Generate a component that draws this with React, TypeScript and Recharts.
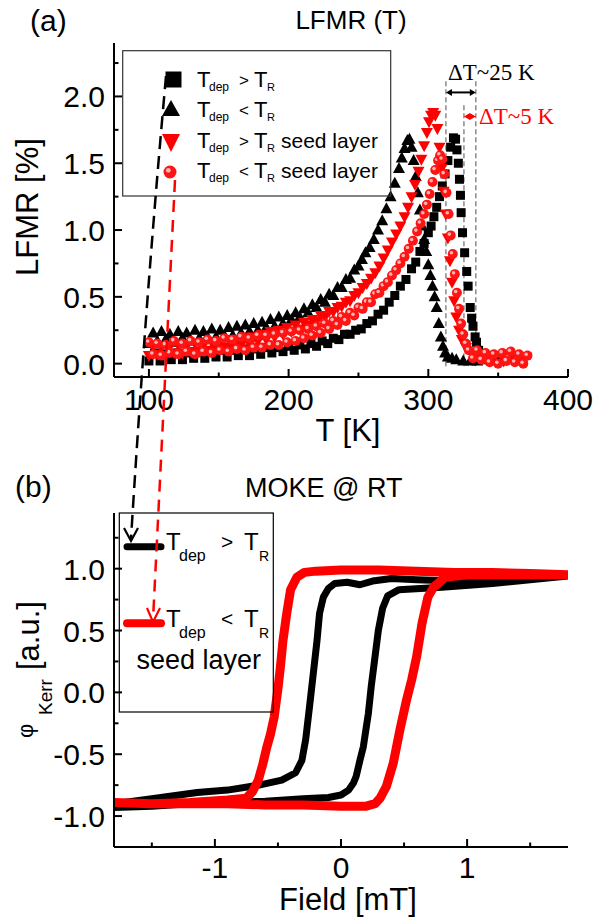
import React from "react";
import { ComposedChart, Scatter, Line, XAxis, YAxis, ReferenceLine } from "recharts";

const FONT = "'Liberation Sans', Arial, Helvetica, sans-serif";
const SERIF = "'Liberation Serif', 'Times New Roman', serif";
const RED = "#ff0000";

// ---------- panel (a): LFMR(T), [T in K, LFMR in %] ----------
const blackSquares: [number, number][] = [
  [100, 0.02], [104, 0.08], [108, 0.02], [112, 0.07], [116, 0.03], [120, 0.08], [124, 0.03], [128, 0.08],
  [132, 0.04], [136, 0.09], [140, 0.04], [144, 0.09], [148, 0.05], [152, 0.1], [156, 0.05], [160, 0.1],
  [164, 0.06], [168, 0.11], [172, 0.06], [176, 0.11], [180, 0.07], [184, 0.12], [188, 0.08], [192, 0.12],
  [196, 0.09], [200, 0.13], [204, 0.1], [208, 0.14], [212, 0.11], [216, 0.15], [220, 0.13], [224, 0.17],
  [228, 0.15], [232, 0.19], [236, 0.18], [240, 0.22], [244, 0.22], [248, 0.25], [252, 0.26], [256, 0.3],
  [260, 0.32], [264, 0.37], [268, 0.4], [272, 0.46], [276, 0.51], [280, 0.58], [284, 0.63], [288, 0.71],
  [291, 0.76], [294, 0.84], [297, 0.9], [300, 0.98], [302, 1.03], [304, 1.1], [306, 1.17], [308, 1.25],
  [310, 1.33], [312, 1.42], [314, 1.52], [316, 1.62], [318, 1.69], [319.5, 1.68], [320.5, 1.6], [321.5, 1.5],
  [322.3, 1.38], [323, 1.26], [323.5, 1.13], [324.5, 0.98], [326, 0.83], [327.5, 0.69], [328.5, 0.58],
  [330, 0.42], [331, 0.34], [332, 0.28], [333.5, 0.2], [334.5, 0.16], [336, 0.1], [338, 0.06], [341, 0.04],
  [345, 0.03], [350, 0.02],
];

const blackTriangles: [number, number][] = [
  [100, 0.15], [103, 0.23], [106, 0.17], [109, 0.24], [112, 0.18], [115, 0.22], [118, 0.16], [121, 0.24],
  [124, 0.19], [127, 0.23], [130, 0.17], [133, 0.25], [136, 0.19], [139, 0.24], [142, 0.2], [145, 0.26],
  [148, 0.2], [151, 0.25], [154, 0.21], [157, 0.27], [160, 0.21], [163, 0.28], [166, 0.23], [169, 0.29],
  [172, 0.24], [175, 0.3], [178, 0.25], [181, 0.31], [184, 0.27], [187, 0.33], [190, 0.28], [193, 0.35],
  [196, 0.3], [199, 0.36], [202, 0.33], [205, 0.38], [208, 0.35], [211, 0.41], [214, 0.38], [217, 0.44],
  [220, 0.42], [223, 0.48], [226, 0.46], [229, 0.52], [232, 0.51], [235, 0.57], [238, 0.57], [241, 0.63],
  [244, 0.64], [247, 0.7], [250, 0.73], [252.5, 0.78], [255, 0.83], [258, 0.87], [261, 0.93], [264, 1.0],
  [267, 1.07], [270, 1.16], [273, 1.25], [276, 1.35], [279, 1.46], [281, 1.54], [283, 1.61], [285, 1.67],
  [286.5, 1.68], [288, 1.62], [289.5, 1.52], [291, 1.4], [292.5, 1.28], [294, 1.15], [295.5, 1.03],
  [297, 0.93], [298.5, 0.84], [300, 0.74], [301.5, 0.66], [303, 0.58], [304.5, 0.5], [306, 0.42],
  [307.5, 0.3], [309, 0.2], [310.5, 0.13], [312, 0.08], [314, 0.05], [317, 0.04], [320, 0.03], [325, 0.02],
  [330, 0.02], [335, 0.02], [340, 0.03],
];

const redTriangles: [number, number][] = [
  [100, 0.06], [103, 0.13], [106, 0.07], [109, 0.12], [112, 0.06], [115, 0.13], [118, 0.08], [121, 0.14],
  [124, 0.08], [127, 0.13], [130, 0.09], [133, 0.15], [136, 0.09], [139, 0.14], [142, 0.1], [145, 0.16],
  [148, 0.11], [151, 0.16], [154, 0.12], [157, 0.18], [160, 0.13], [163, 0.18], [166, 0.14], [169, 0.2],
  [172, 0.15], [175, 0.2], [178, 0.17], [181, 0.22], [184, 0.18], [187, 0.24], [190, 0.2], [193, 0.25],
  [196, 0.22], [199, 0.27], [202, 0.24], [205, 0.29], [208, 0.26], [211, 0.31], [214, 0.29], [217, 0.33],
  [220, 0.32], [223, 0.36], [226, 0.35], [229, 0.39], [232, 0.39], [235, 0.42], [238, 0.43], [241, 0.46],
  [244, 0.47], [247, 0.51], [250, 0.53], [253, 0.57], [256, 0.6], [259, 0.64], [262, 0.68], [265, 0.73],
  [268, 0.79], [271, 0.85], [274, 0.91], [277, 0.97], [280, 1.03], [283, 1.1], [285.5, 1.17], [288, 1.25],
  [290.5, 1.34], [293, 1.44], [295, 1.53], [297, 1.63], [299, 1.73], [300.5, 1.81], [302, 1.86],
  [303.5, 1.88], [305, 1.86], [306.5, 1.76], [308, 1.62], [309.5, 1.46], [311, 1.29], [312.5, 1.12],
  [314, 0.94], [315.5, 0.77], [317, 0.61], [318.5, 0.47], [320, 0.35], [322, 0.25], [324, 0.18], [327, 0.12],
  [331, 0.08], [336, 0.06], [342, 0.03], [348, 0.06], [354, 0.02], [360, 0.06], [366, 0.03], [370, 0.05],
];

const redCircles: [number, number][] = [
  [100, 0.16], [103, 0.07], [106, 0.15], [109, 0.06], [112, 0.14], [115, 0.08], [118, 0.17], [121, 0.07],
  [124, 0.15], [127, 0.09], [130, 0.17], [133, 0.07], [136, 0.16], [139, 0.09], [142, 0.18], [145, 0.08],
  [148, 0.17], [151, 0.1], [154, 0.19], [157, 0.09], [160, 0.18], [163, 0.11], [166, 0.2], [169, 0.1],
  [172, 0.19], [175, 0.12], [178, 0.21], [181, 0.12], [184, 0.21], [187, 0.14], [190, 0.22], [193, 0.14],
  [196, 0.23], [199, 0.16], [202, 0.24], [205, 0.17], [208, 0.25], [211, 0.19], [214, 0.26], [217, 0.21],
  [220, 0.28], [223, 0.23], [226, 0.3], [229, 0.26], [232, 0.32], [235, 0.29], [238, 0.35], [241, 0.32],
  [244, 0.38], [247, 0.36], [250, 0.42], [253, 0.41], [256, 0.46], [259, 0.46], [262, 0.52], [265, 0.53],
  [268, 0.58], [271, 0.61], [274, 0.66], [277, 0.7], [280, 0.75], [283, 0.8], [286, 0.86], [289, 0.92],
  [292, 0.99], [294.5, 1.05], [297, 1.12], [299, 1.19], [301, 1.27], [303, 1.36], [305, 1.45], [307, 1.52],
  [308.5, 1.56], [310, 1.53], [311.5, 1.42], [313, 1.28], [314.5, 1.12], [316, 0.96], [317.5, 0.82],
  [319, 0.67], [320.5, 0.53], [322, 0.41], [323.5, 0.3], [325, 0.22], [327, 0.15], [329, 0.1], [332, 0.04],
  [335, 0.1], [338, 0.03], [341, 0.08], [344, 0.01], [347, 0.07], [350, 0.0], [353, 0.08], [356, 0.02],
  [359, 0.09], [362, 0.01], [365, 0.07], [368, 0.0], [371, 0.06],
];

// dashed guides and ΔT arrows [K], heights in %
const guideT = [312.6, 325.5, 334];
const guideTop = [2.13, 1.95, 2.13];
const dT25 = { from: 312.6, to: 334, at: 2.03 };
const dT5 = { from: 325.5, to: 334, at: 1.85 };

const tTicks = [100, 150, 200, 250, 300, 350, 400];
const tMajor = [100, 200, 300, 400];
const lfmrTicks = [0, 0.25, 0.5, 0.75, 1, 1.25, 1.5, 1.75, 2, 2.25];
const lfmrMajor = [0, 0.5, 1, 1.5, 2];

// ---------- panel (b): MOKE loops, [field mT, phi_Kerr a.u.] ----------
const blackLoop: [number, number][] = [
  [1.8, 0.95], [1.5, 0.93], [1.2, 0.91], [0.9, 0.9], [0.6, 0.91], [0.4, 0.92], [0.25, 0.9], [0.15, 0.87],
  [0.05, 0.89], [-0.05, 0.88], [-0.1, 0.84], [-0.14, 0.77], [-0.17, 0.64], [-0.19, 0.42], [-0.22, 0.15],
  [-0.25, -0.12], [-0.28, -0.38], [-0.31, -0.55], [-0.36, -0.65], [-0.47, -0.71], [-0.65, -0.75],
  [-0.9, -0.79], [-1.14, -0.81], [-1.5, -0.86], [-1.8, -0.9],
  [-1.8, -0.93], [-1.5, -0.92], [-1.2, -0.9], [-0.9, -0.89], [-0.6, -0.88], [-0.3, -0.86], [-0.1, -0.85],
  [0.0, -0.83], [0.06, -0.79], [0.1, -0.73], [0.12, -0.68], [0.15, -0.55], [0.177, -0.44], [0.217, -0.17],
  [0.24, 0.05], [0.265, 0.25], [0.296, 0.5], [0.33, 0.68], [0.37, 0.78], [0.46, 0.83], [0.8, 0.85],
  [1.2, 0.88], [1.5, 0.91], [1.8, 0.94],
];

const redLoop: [number, number][] = [
  [1.8, 0.95], [1.5, 0.96], [1.2, 0.97], [0.9, 0.97], [0.6, 0.98], [0.3, 0.99], [0.0, 0.99], [-0.2, 0.98],
  [-0.29, 0.97], [-0.35, 0.93], [-0.4, 0.83], [-0.43, 0.64], [-0.46, 0.42], [-0.48, 0.21], [-0.5, 0.03],
  [-0.53, -0.2], [-0.56, -0.34], [-0.59, -0.45], [-0.62, -0.58], [-0.656, -0.71], [-0.7, -0.8],
  [-0.75, -0.855], [-0.9, -0.87], [-1.2, -0.89], [-1.5, -0.9], [-1.8, -0.89],
  [-1.8, -0.89], [-1.5, -0.9], [-1.2, -0.9], [-0.9, -0.9], [-0.6, -0.91], [-0.3, -0.91], [0.0, -0.92],
  [0.2, -0.92], [0.27, -0.9], [0.31, -0.855], [0.36, -0.76], [0.415, -0.57], [0.468, -0.3], [0.52, -0.06],
  [0.56, 0.1], [0.6, 0.29], [0.643, 0.56], [0.689, 0.77], [0.734, 0.85], [0.825, 0.93], [1.0, 0.95],
  [1.2, 0.95], [1.5, 0.95], [1.8, 0.95],
];

const fieldTicks = [-1.5, -1, -0.5, 0, 0.5, 1, 1.5];
const fieldMajor = [-1, 0, 1];
const kerrTicks = [-1, -0.75, -0.5, -0.25, 0, 0.25, 0.5, 0.75, 1, 1.25];
const kerrMajor = [-1, -0.5, 0, 0.5, 1];

const toTV = (d: [number, number][]) => d.map(([t, v]) => ({ t, v }));
const toFK = (d: [number, number][]) => d.map(([f, k]) => ({ f, k }));

const AX = { stroke: "#000", strokeWidth: 2 };

type Side = "bottom" | "left" | "top" | "right";
const makeTick = (side: Side, major: number[], fmt: (v: number) => string, gap = 0) => (props: any) => {
  const { x, y, payload } = props;
  const v = payload.value;
  const big = major.some((m) => Math.abs(m - v) < 1e-6);
  const len = big ? 8 : 4.5;
  const ln = { stroke: "#000", strokeWidth: 2 };
  if (side === "bottom")
    return (
      <g>
        <line x1={x} y1={y} x2={x} y2={y - len} {...ln} />
        {big && (
          <text x={x} y={y + gap} textAnchor="middle" fontSize={30} fontFamily={FONT} fill="#000">
            {fmt(v)}
          </text>
        )}
      </g>
    );
  if (side === "left")
    return (
      <g>
        <line x1={x} y1={y} x2={x + len} y2={y} {...ln} />
        {big && (
          <text x={x - gap} y={y + 11} textAnchor="end" fontSize={30} fontFamily={FONT} fill="#000">
            {fmt(v)}
          </text>
        )}
      </g>
    );
  if (side === "top") return <line x1={x} y1={y} x2={x} y2={y + len} {...ln} />;
  return <line x1={x} y1={y} x2={x - len} y2={y} {...ln} />;
};

const square = (p: any) => <rect x={p.cx - 4.5} y={p.cy - 4.5} width={9} height={9} fill="#000" />;
const triUp = (p: any) => (
  <path d={`M${p.cx},${p.cy - 6.5}L${p.cx + 6},${p.cy + 4.5}L${p.cx - 6},${p.cy + 4.5}Z`} fill="#000" />
);
const triDown = (p: any) => (
  <path d={`M${p.cx},${p.cy + 6.5}L${p.cx + 6},${p.cy - 4.5}L${p.cx - 6},${p.cy - 4.5}Z`} fill={RED} />
);
const sphere = (p: any) => (
  <g>
    <circle cx={p.cx} cy={p.cy} r={5} fill="#ff1414" />
    <circle cx={p.cx - 1.3} cy={p.cy - 1.3} r={1.8} fill="#ffb4b4" />
  </g>
);

const arrowShape = (color: string) => (p: any) => {
  const { x1, y1, x2, y2 } = p;
  return (
    <g>
      <line x1={x1 + 4} y1={y1} x2={x2 - 4} y2={y2} stroke={color} strokeWidth={2} />
      <path d={`M${x1},${y1}l6,-3.5v7z`} fill={color} />
      <path d={`M${x2},${y2}l-6,-3.5v7z`} fill={color} />
    </g>
  );
};

const fmt1 = (v: number) => v.toFixed(1);
const fmtInt = (v: number) => String(v);

function Overlay() {
  const rowA = (base: number, rel: string, seed: boolean) => (
    <text y={base} fontSize={22} fontFamily={FONT} fill="#000">
      <tspan x={197}>T</tspan>
      <tspan x={209} y={base + 4} fontSize={12}>dep</tspan>
      <tspan x={239} y={base - 1} fontSize={17}>{rel}</tspan>
      <tspan x={254} y={base}>T</tspan>
      <tspan x={267} y={base + 4} fontSize={11}>R</tspan>
      {seed && <tspan x={281} y={base} fontSize={21}>seed layer</tspan>}
    </text>
  );
  const rowB = (base: number, rel: string) => (
    <text y={base} fontSize={24} fontFamily={FONT} fill="#000">
      <tspan x={166}>T</tspan>
      <tspan x={179} y={base + 11} fontSize={16}>dep</tspan>
      <tspan x={221} y={base - 1} fontSize={21}>{rel}</tspan>
      <tspan x={244} y={base}>T</tspan>
      <tspan x={259} y={base + 11} fontSize={14}>R</tspan>
    </text>
  );
  return (
    <svg width={595} height={918} style={{ position: "absolute", left: 0, top: 0, pointerEvents: "none" }}>
      <g fontFamily={FONT} fill="#000">
        <text x={30} y={31} fontSize={30}>(a)</text>
        <text x={351} y={29} fontSize={26} textAnchor="middle">LFMR (T)</text>
        <text transform="translate(38,207) rotate(-90)" fontSize={31} textAnchor="middle">LFMR [%]</text>
        <text x={348} y={441} fontSize={31} textAnchor="middle">T [K]</text>

        <text x={15} y={497} fontSize={30}>(b)</text>
        <text x={245} y={497} fontSize={27}>MOKE @ RT</text>
        <text x={348} y={910} fontSize={31} textAnchor="middle">Field [mT]</text>
        <text transform="translate(39,738) rotate(-90)" fontSize={31}>
          <tspan x={0} y={-6} fontSize={22}>φ</tspan>
          <tspan x={23} y={13} fontSize={19}>Kerr</tspan>
          <tspan x={68} y={0}>[a.u.]</tspan>
        </text>
      </g>

      {/* legend (a) */}
      <rect x={122.7} y={50.7} width={268} height={145.3} fill="none" stroke="#333" strokeWidth={1.2} />
      <rect x={165.5} y={71.5} width={16} height={16} fill="#000" />
      <path d="M171,100 L180,116 L162,116 Z" fill="#000" />
      <path d="M171,152 L180,134 L162,134 Z" fill={RED} />
      <circle cx={170} cy={172} r={6.5} fill="#ff1414" />
      <circle cx={168.3} cy={170.3} r={2.4} fill="#ffb4b4" />
      {rowA(87, ">", false)}
      {rowA(117, "<", false)}
      {rowA(148, ">", true)}
      {rowA(178, "<", true)}

      <text x={448} y={80} fontSize={23} fontFamily={SERIF} fill="#000">ΔT~25 K</text>
      <text x={479} y={124} fontSize={23} fontFamily={SERIF} fill={RED}>ΔT~5 K</text>

      {/* legend (b) */}
      <rect x={119.3} y={513} width={154} height={199} fill="none" stroke="#000" strokeWidth={1.2} />
      <line x1={127} y1={546.7} x2={161} y2={546.7} stroke="#000" strokeWidth={7} strokeLinecap="round" />
      <line x1={127} y1={623.3} x2={161} y2={623.3} stroke={RED} strokeWidth={8} strokeLinecap="round" />
      {rowB(550, ">")}
      {rowB(627, "<")}
      <text x={136.5} y={669} fontSize={27} fontFamily={FONT} fill="#000">seed layer</text>

      {/* connecting arrows */}
      <path d="M166,76 Q145,310 131,539" fill="none" stroke="#000" strokeWidth={2.5} strokeDasharray="13 7" />
      <polyline points="124,528 131,541 138,528" fill="none" stroke="#000" strokeWidth={2.2} />
      <path d="M175,180 L153,620" fill="none" stroke={RED} strokeWidth={2.5} strokeDasharray="12 8" />
      <polyline points="147,608 153,622 160,608" fill="none" stroke={RED} strokeWidth={2.2} />
    </svg>
  );
}

export default function App() {
  return (
    <div style={{ position: "absolute", left: 0, top: 0, width: 595, height: 918, background: "#fff" }}>
      <div style={{ position: "absolute", left: 0, top: 0 }}>
        <ComposedChart width={595} height={430} margin={{ top: 43, right: 27, bottom: 0, left: 0 }}>
          <XAxis dataKey="t" type="number" domain={[75, 400]} ticks={tTicks} interval={0} height={53}
            tickSize={0} tickMargin={0} tickLine={false} axisLine={AX} allowDataOverflow
            tick={makeTick("bottom", tMajor, fmtInt, 33)} />
          <XAxis xAxisId="top" orientation="top" type="number" domain={[75, 400]} ticks={tTicks} interval={0}
            height={0} tickSize={0} tickMargin={0} tickLine={false} axisLine={AX} allowDataOverflow
            tick={makeTick("top", tMajor, fmtInt)} />
          <YAxis dataKey="v" type="number" domain={[-0.1, 2.4]} ticks={lfmrTicks} interval={0} width={114}
            tickSize={0} tickMargin={0} tickLine={false} axisLine={AX} allowDataOverflow
            tick={makeTick("left", lfmrMajor, fmt1, 9)} />
          <YAxis yAxisId="right" orientation="right" type="number" domain={[-0.1, 2.4]} ticks={lfmrTicks}
            interval={0} width={0} tickSize={0} tickMargin={0} tickLine={false} axisLine={AX} allowDataOverflow
            tick={makeTick("right", lfmrMajor, fmt1)} />
          <Scatter data={toTV(blackSquares)} shape={square} isAnimationActive={false} />
          <Scatter data={toTV(blackTriangles)} shape={triUp} isAnimationActive={false} />
          <Scatter data={toTV(redTriangles)} shape={triDown} isAnimationActive={false} />
          <Scatter data={toTV(redCircles)} shape={sphere} isAnimationActive={false} />
          {guideT.map((t, i) => (
            <ReferenceLine key={t} segment={[{ x: t, y: -0.02 }, { x: t, y: guideTop[i] }]}
              stroke="#8a8a8a" strokeWidth={1.5} strokeDasharray="5 3" />
          ))}
          <ReferenceLine segment={[{ x: dT25.from, y: dT25.at }, { x: dT25.to, y: dT25.at }]} shape={arrowShape("#000")} />
          <ReferenceLine segment={[{ x: dT5.from, y: dT5.at }, { x: dT5.to, y: dT5.at }]} shape={arrowShape(RED)} />
        </ComposedChart>
      </div>
      <div style={{ position: "absolute", left: 0, top: 430 }}>
        <ComposedChart width={595} height={488} margin={{ top: 83, right: 27, bottom: 0, left: 0 }}>
          <XAxis dataKey="f" type="number" domain={[-1.8, 1.8]} ticks={fieldTicks} interval={0} height={71}
            tickSize={0} tickMargin={0} tickLine={false} axisLine={AX} allowDataOverflow
            tick={makeTick("bottom", fieldMajor, fmtInt, 31)} />
          <XAxis xAxisId="top" orientation="top" type="number" domain={[-1.8, 1.8]} ticks={fieldTicks} interval={0}
            height={0} tickSize={0} tickMargin={0} tickLine={false} axisLine={AX} allowDataOverflow
            tick={makeTick("top", fieldMajor, fmtInt)} />
          <YAxis type="number" domain={[-1.25, 1.45]} ticks={kerrTicks} interval={0} width={114}
            tickSize={0} tickMargin={0} tickLine={false} axisLine={AX} allowDataOverflow
            tick={makeTick("left", kerrMajor, fmt1, 9)} />
          <YAxis yAxisId="right" orientation="right" type="number" domain={[-1.25, 1.45]} ticks={kerrTicks}
            interval={0} width={0} tickSize={0} tickMargin={0} tickLine={false} axisLine={AX} allowDataOverflow
            tick={makeTick("right", kerrMajor, fmt1)} />
          <Line data={toFK(blackLoop)} dataKey="k" type="linear" stroke="#000" strokeWidth={7}
            strokeLinejoin="round" dot={false} activeDot={false} isAnimationActive={false} />
          <Line data={toFK(redLoop)} dataKey="k" type="linear" stroke={RED} strokeWidth={9}
            strokeLinejoin="round" dot={false} activeDot={false} isAnimationActive={false} />
        </ComposedChart>
      </div>
      <Overlay />
    </div>
  );
}
